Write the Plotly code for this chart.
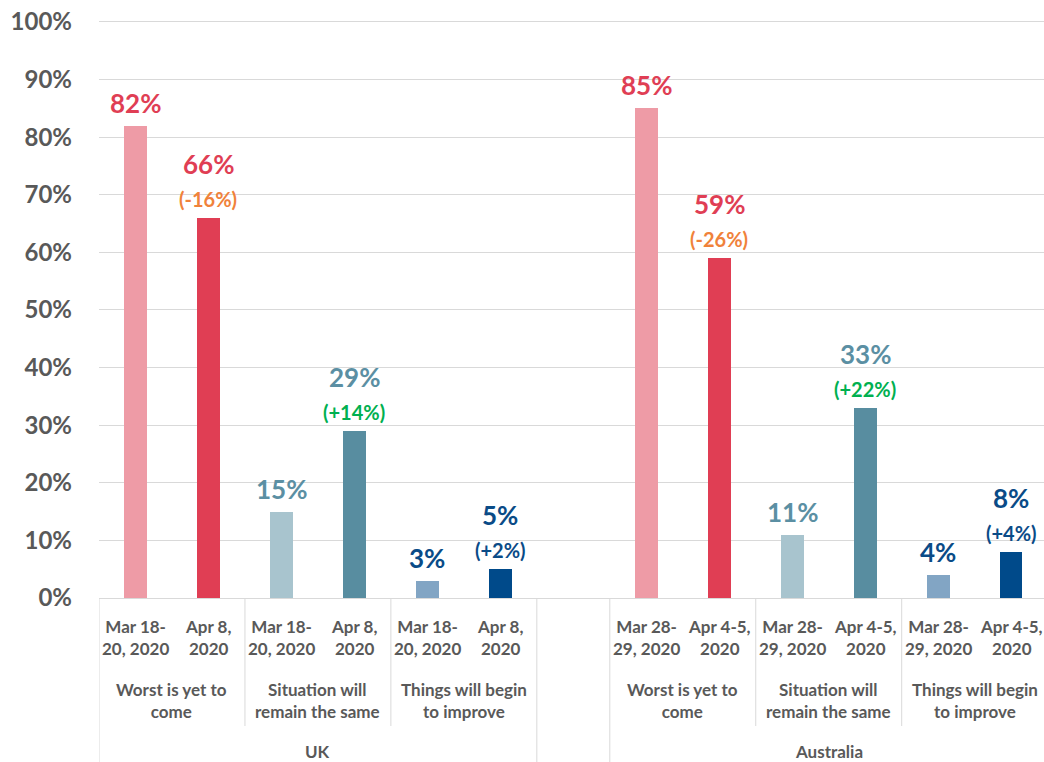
import plotly.graph_objects as go

countries = ["UK", "Australia"]
answers = ["Worst is yet to<br>come", "Situation will<br>remain the same", "Things will begin<br>to improve"]
dates = {
    "UK": ["Mar 18-<br>20, 2020", "Apr 8,<br>2020"],
    "Australia": ["Mar 28-<br>29, 2020", "Apr 4-5,<br>2020"],
}
values = {
    "UK": [82, 66, 15, 29, 3, 5],
    "Australia": [85, 59, 11, 33, 4, 8],
}
changes = {
    "UK": ["-16%", "+14%", "+2%"],
    "Australia": ["-26%", "+22%", "+4%"],
}
y_ticks = [0, 10, 20, 30, 40, 50, 60, 70, 80, 90, 100]

bar_colors = ["#EE9BA6", "#E03E54", "#A8C4CE", "#588DA0", "#82A5C4", "#004A8A"]
label_colors = ["#E03E54", "#E03E54", "#5B8FA3", "#5B8FA3", "#0A4B87", "#0A4B87"]
change_colors = ["#F0823A", "#00B050", "#0A4B87"]

FONT = "Lato"
GRAY = "#595959"

fig = go.Figure()

positions = {"UK": [0, 1, 2, 3, 4, 5], "Australia": [7, 8, 9, 10, 11, 12]}


def ann(**kw):
    d = dict(showarrow=False, xanchor="center", yanchor="middle", align="center")
    d.update(kw)
    return d


annotations = []
for c in countries:
    xs = positions[c]
    vals = values[c]
    fig.add_trace(go.Bar(
        x=xs, y=vals, width=0.31,
        marker=dict(color=bar_colors, line=dict(width=0)),
        showlegend=False, hoverinfo="skip",
    ))
    for i, (x, v) in enumerate(zip(xs, vals)):
        if i % 2 == 1:
            annotations.append(ann(x=x, y=v, xref="x", yref="y", text="<b>%d%%</b>" % v,
                                   yshift=54, font=dict(size=26, color=label_colors[i], family=FONT)))
            annotations.append(ann(x=x, y=v, xref="x", yref="y", text="<b>(%s)</b>" % changes[c][i // 2],
                                   yshift=19, font=dict(size=20, color=change_colors[i // 2], family=FONT)))
        else:
            annotations.append(ann(x=x, y=v, xref="x", yref="y", text="<b>%d%%</b>" % v,
                                   yshift=23, font=dict(size=26, color=label_colors[i], family=FONT)))
        annotations.append(ann(x=x, y=0, xref="x", yref="paper", text="<b>%s</b>" % dates[c][i % 2],
                               yshift=-39.5, font=dict(size=17, color=GRAY, family=FONT)))
    for j, a in enumerate(answers):
        xm = (xs[2 * j] + xs[2 * j + 1]) / 2
        annotations.append(ann(x=xm, y=0, xref="x", yref="paper", text="<b>%s</b>" % a,
                               yshift=-102.5, font=dict(size=17, color=GRAY, family=FONT)))
    annotations.append(ann(x=(xs[0] + xs[-1]) / 2, y=0, xref="x", yref="paper", text="<b>%s</b>" % c,
                           yshift=-153, font=dict(size=17, color=GRAY, family=FONT)))

plot_h = 579
shapes = []
sub_bounds = [1.5, 3.5, 8.5, 10.5]
group_bounds = [-0.5, 5.5, 6.5, 12.5]
for b in sub_bounds:
    shapes.append(dict(type="line", xref="x", yref="paper", x0=b, x1=b, y0=0, y1=-128 / plot_h,
                       line=dict(color="#D9D9D9", width=1)))
for b in group_bounds:
    shapes.append(dict(type="line", xref="x", yref="paper", x0=b, x1=b, y0=0, y1=-164 / plot_h,
                       line=dict(color="#D9D9D9", width=1)))

fig.update_layout(
    width=1044, height=762,
    margin=dict(l=99, r=0, t=19, b=164),
    paper_bgcolor="white", plot_bgcolor="white",
    bargap=0,
    annotations=annotations,
    shapes=shapes,
    xaxis=dict(range=[-0.5, 12.45], showticklabels=False, showgrid=False, zeroline=False,
               showline=True, linecolor="#D9D9D9", linewidth=1, fixedrange=True, automargin=False),
    yaxis=dict(range=[0, 100.5], tickvals=y_ticks, ticktext=["<b>%d%%</b>" % t for t in y_ticks],
               tickfont=dict(size=24, color=GRAY, family=FONT), showgrid=True, gridcolor="#D9D9D9",
               gridwidth=1, zeroline=False, ticklabelstandoff=26, automargin=False,
               ticklabeloverflow="allow"),
)

fig.write_html("out.html", config={"displayModeBar": False},
               post_script="document.body.style.margin='0px';document.body.style.overflow='hidden';")
